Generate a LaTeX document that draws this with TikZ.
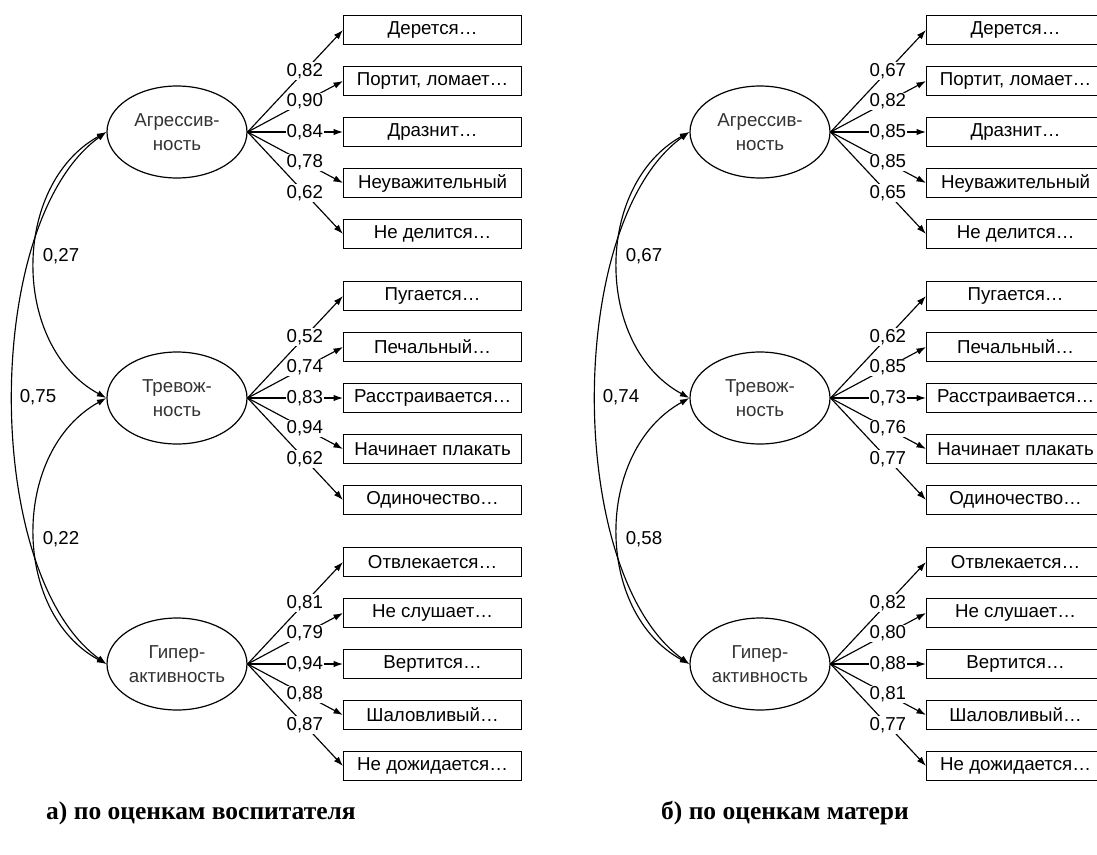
\documentclass[tikz,border=0pt]{standalone}
\usepackage{fontspec}
\setmainfont{Liberation Sans}
\newfontfamily\capfont{Liberation Serif}
\usetikzlibrary{shapes.geometric,arrows.meta}
\tikzset{
  every node/.style={font=\fontsize{18.7}{22}\selectfont},
  itembox/.style={draw,line width=1.2pt,minimum width=178pt,minimum height=29pt,inner sep=0pt,anchor=west},
  factor/.style={draw,ellipse,line width=1.2pt,minimum width=140pt,minimum height=92pt,inner sep=0pt,align=center,text=black!80,font=\fontsize{18.7}{24}\selectfont},
  load/.style={line width=1.15pt,-{Latex[length=9.5pt,width=6.5pt]}},
  lab/.style={fill=white,inner sep=1pt,pos=0.6},
  corr/.style={line width=1.15pt,{Latex[length=9.5pt,width=6.5pt]}-{Latex[length=9.5pt,width=6.5pt]}},
  corrlab/.style={inner sep=0pt},
  captext/.style={font=\capfont\bfseries\fontsize{25.5}{30}\selectfont}
}
\newcommand\factorgroup[5]{%
  \node[factor] (#1) at (177,#2) {#3};
  \foreach \it [count=\i] in {#4} {\node[itembox] (#1-\i) at (343,{#2+(\i-3)*51}) {\it};}
  \foreach \l [count=\i] in {#5} {\draw[load] (#1.east) -- node[lab]{\l} (#1-\i.west);}
}
\newcommand\panel[7]{%
  \factorgroup{#1A}{132}{Агрессив-\\ность}{Дерется…,{Портит, ломает…},Дразнит…,Неуважительный,Не делится…}{#2}
  \factorgroup{#1T}{398}{Тревож-\\ность}{Пугается…,Печальный…,Расстраивается…,Начинает плакать,Одиночество…}{#3}
  \factorgroup{#1G}{664}{Гипер-\\активность}{Отвлекается…,Не слушает…,Вертится…,Шаловливый…,Не дожидается…}{#4}
  \draw[corr] (#1A.west) .. controls (11,185) and (11,346) .. (#1T.west);
  \draw[corr] (#1A.west) .. controls (-18,222) and (-18,574) .. (#1G.west);
  \draw[corr] (#1T.west) .. controls (11,451) and (11,612) .. (#1G.west);
  \node[corrlab] (#1c1) at (61,256) {#5};
  \node[corrlab] (#1c2) at (38,397) {#6};
  \node[corrlab] (#1c3) at (61,539) {#7};
}
\begin{document}
\begin{tikzpicture}[x=1pt,y=-1pt]
\useasboundingbox (0,0) rectangle (1097,854);
\fill[white] (0,0) rectangle (1097,854);
\panel{a}{{0,82},{0,90},{0,84},{0,78},{0,62}}{{0,52},{0,74},{0,83},{0,94},{0,62}}{{0,81},{0,79},{0,94},{0,88},{0,87}}{0,27}{0,75}{0,22}
\begin{scope}[xshift=583pt]
\panel{b}{{0,67},{0,82},{0,85},{0,85},{0,65}}{{0,62},{0,85},{0,73},{0,76},{0,77}}{{0,82},{0,80},{0,88},{0,81},{0,77}}{0,67}{0,74}{0,58}
\end{scope}
\node[captext] (capa) at (201,813) {а) по оценкам воспитателя};
\node[captext] (capb) at (785,813) {б) по оценкам матери};
\end{tikzpicture}
\end{document}
